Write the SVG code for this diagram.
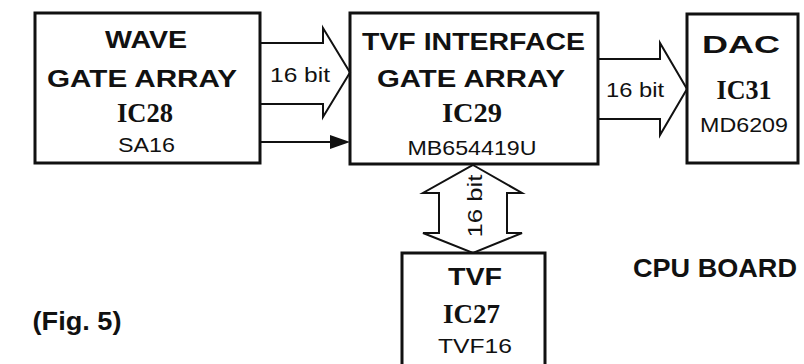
<svg xmlns="http://www.w3.org/2000/svg" width="804" height="364" viewBox="0 0 804 364">
<style>
.box{fill:none;stroke:#111;stroke-width:3}
.bus{fill:#fff;stroke:#111;stroke-width:2;stroke-linejoin:miter}
.bt{font-family:"Liberation Sans",Arial,sans-serif;font-weight:bold;fill:#111;text-anchor:middle}
.st{font-family:"Liberation Sans",Arial,sans-serif;fill:#111;text-anchor:middle}
.ic{font-family:"Liberation Serif","Times New Roman",serif;font-weight:bold;fill:#111;text-anchor:middle}
</style>
<rect width="804" height="364" fill="#fff"/>
<g id="connectors">
<polyline class="bus" points="260,43 323,43 323,28 350,72.5 323,117 323,104 260,104"/>
<text class="st" x="300" y="82" font-size="21" textLength="60" lengthAdjust="spacingAndGlyphs">16 bit</text>
<line x1="260" y1="142" x2="334" y2="142" stroke="#111" stroke-width="2"/>
<polygon points="330,135 350,142 330,149" fill="#111"/>
<polyline class="bus" points="597,59 660,59 660,43 687,89 660,135 660,119 597,119"/>
<text class="st" x="635" y="97" font-size="21" textLength="58" lengthAdjust="spacingAndGlyphs">16 bit</text>
<polygon class="bus" points="473,165 522,193 507,193 507,233 522,233 473,253 423,233 439,233 439,193 423,193"/>
<text class="st" x="0" y="0" font-size="21" textLength="63" lengthAdjust="spacingAndGlyphs" transform="translate(482,206) rotate(-90)">16 bit</text>
</g>
<g id="wave">
<rect class="box" x="35" y="13" width="225" height="150"/>
<text class="bt" x="146" y="48" font-size="24" textLength="82" lengthAdjust="spacingAndGlyphs">WAVE</text>
<text class="bt" x="142" y="87" font-size="24" textLength="190" lengthAdjust="spacingAndGlyphs">GATE ARRAY</text>
<text class="ic" x="145" y="122" font-size="27" textLength="56" lengthAdjust="spacingAndGlyphs">IC28</text>
<text class="st" x="146.5" y="152" font-size="20" textLength="57" lengthAdjust="spacingAndGlyphs">SA16</text>
</g>
<g id="tvfif">
<rect class="box" x="350" y="13" width="248" height="151"/>
<text class="bt" x="473.5" y="50" font-size="24" textLength="223" lengthAdjust="spacingAndGlyphs">TVF INTERFACE</text>
<text class="bt" x="471" y="87" font-size="24" textLength="188" lengthAdjust="spacingAndGlyphs">GATE ARRAY</text>
<text class="ic" x="472" y="122" font-size="27" textLength="60" lengthAdjust="spacingAndGlyphs">IC29</text>
<text class="st" x="472" y="155" font-size="21" textLength="129" lengthAdjust="spacingAndGlyphs">MB654419U</text>
</g>
<g id="dac">
<rect class="box" x="687" y="14" width="111" height="149"/>
<text class="bt" x="741" y="53" font-size="24" textLength="78" lengthAdjust="spacingAndGlyphs">DAC</text>
<text class="ic" x="744" y="99" font-size="27" textLength="55" lengthAdjust="spacingAndGlyphs">IC31</text>
<text class="st" x="744" y="132" font-size="21" textLength="88" lengthAdjust="spacingAndGlyphs">MD6209</text>
</g>
<g id="tvf">
<polyline class="box" points="402,366 402,253 545,253 545,366"/>
<text class="bt" x="475" y="285" font-size="24" textLength="54" lengthAdjust="spacingAndGlyphs">TVF</text>
<text class="ic" x="471.5" y="323" font-size="27" textLength="57" lengthAdjust="spacingAndGlyphs">IC27</text>
<text class="st" x="475" y="353" font-size="21" textLength="74" lengthAdjust="spacingAndGlyphs">TVF16</text>
</g>
<g id="labels">
<text class="bt" x="715" y="277" font-size="25" textLength="164" lengthAdjust="spacingAndGlyphs">CPU BOARD</text>
<text class="bt" x="77" y="330" font-size="25" textLength="89" lengthAdjust="spacingAndGlyphs">(Fig. 5)</text>
</g>
</svg>
